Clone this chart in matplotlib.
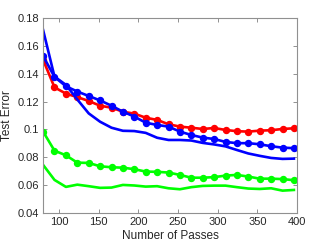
import numpy as np
import matplotlib
matplotlib.use("Agg")
import matplotlib.pyplot as plt

plt.rcParams['font.family'] = ['Liberation Sans', 'DejaVu Sans']

passes = np.linspace(80, 396, 23)

red_dots = [0.150, 0.1302, 0.1257, 0.1232, 0.1204, 0.1170, 0.1156, 0.1127, 0.1113,
            0.1084, 0.1068, 0.1037, 0.1020, 0.1012, 0.1003, 0.1010, 0.0996, 0.0987,
            0.0984, 0.0991, 0.0994, 0.1003, 0.1008]
blue_dots = [0.1527, 0.1377, 0.1310, 0.1272, 0.1240, 0.1208, 0.1170, 0.1127, 0.1092,
             0.1048, 0.1032, 0.1020, 0.0984, 0.0960, 0.0941, 0.0931, 0.0910, 0.0901,
             0.0901, 0.0893, 0.0879, 0.0869, 0.0865]
blue_line = [0.1714, 0.1379, 0.1320, 0.1215, 0.1115, 0.1055, 0.1012, 0.0990, 0.0988,
             0.0975, 0.0940, 0.0924, 0.0924, 0.0920, 0.0903, 0.0892, 0.0878, 0.0852,
             0.0827, 0.0810, 0.0795, 0.0788, 0.0790]
green_dots = [0.0984, 0.0847, 0.0814, 0.0761, 0.0759, 0.0735, 0.0728, 0.0725, 0.0714,
              0.0697, 0.0695, 0.0690, 0.0673, 0.0653, 0.0653, 0.0657, 0.0668, 0.0673,
              0.0661, 0.0646, 0.0646, 0.0643, 0.0635]
green_line = [0.0745, 0.0637, 0.0587, 0.0603, 0.0592, 0.0580, 0.0582, 0.0601, 0.0597,
              0.0589, 0.0592, 0.0577, 0.0570, 0.0585, 0.0594, 0.0596, 0.0596, 0.0585,
              0.0575, 0.0572, 0.0577, 0.0560, 0.0565]

fig = plt.figure(figsize=(3.29, 2.47), dpi=100)
ax = fig.add_axes([0.131, 0.138, 0.772, 0.789])

lw = 1.9
ms = 4.3
ax.plot(passes, green_line, color=(0, 1, 0), lw=lw)
ax.plot(passes, green_dots, color=(0, 1, 0), lw=lw, marker='o', ms=ms)
ax.plot(passes, red_dots, color=(1, 0, 0), lw=lw, marker='o', ms=ms)
ax.plot(passes, blue_line, color=(0, 0, 1), lw=lw)
ax.plot(passes, blue_dots, color=(0, 0, 1), lw=lw, marker='o', ms=ms)

ax.set_xlim(80, 400)
ax.set_ylim(0.04, 0.18)
ax.set_xticks([100, 150, 200, 250, 300, 350, 400])
ax.set_yticks([0.04, 0.06, 0.08, 0.1, 0.12, 0.14, 0.16, 0.18])
ax.set_yticklabels(['0.04', '0.06', '0.08', '0.1', '0.12', '0.14', '0.16', '0.18'])
ax.tick_params(direction='in', top=True, right=True, length=3, width=0.6,
               colors='#808080', labelcolor='#262626', labelsize=8, pad=3)
for s in ax.spines.values():
    s.set_color('#909090')
    s.set_linewidth(0.8)

ax.set_xlabel("Number of Passes", fontsize=8.5, color='#262626', labelpad=2)
ax.set_ylabel("Test Error", fontsize=8.5, color='#262626', labelpad=3)

fig.savefig("out.png", dpi=100)
